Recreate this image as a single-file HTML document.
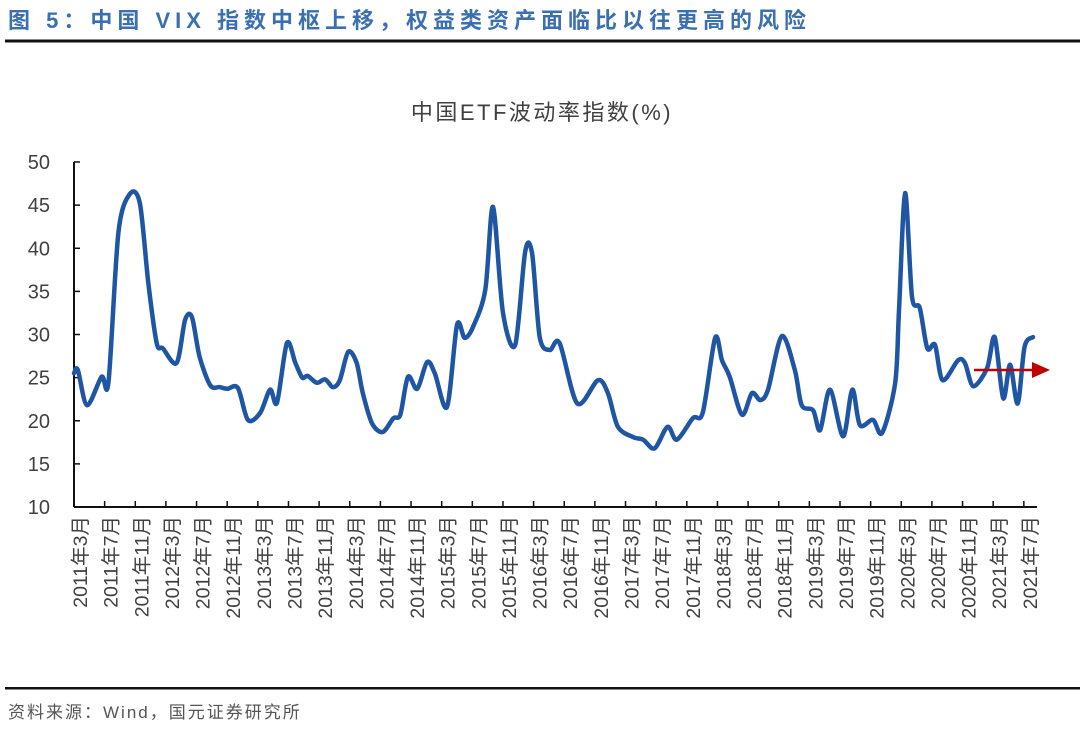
<!DOCTYPE html>
<html><head><meta charset="utf-8">
<style>
html,body{margin:0;padding:0;background:#fff;}
svg{display:block;}
text{font-family:"Liberation Sans","Noto Sans CJK SC",sans-serif;}
</style></head>
<body>
<svg id="chart" width="1080" height="730" viewBox="0 0 1080 730">
  <text x="8" y="28" font-size="22" font-weight="bold" fill="#3a6fb0" letter-spacing="5">图 5：中国 VIX 指数中枢上移，权益类资产面临比以往更高的风险</text>
  <rect x="5" y="39.5" width="1075" height="3" fill="#111"/>
  <text x="542" y="120" font-size="22" fill="#404040" text-anchor="middle" letter-spacing="2.5">中国ETF波动率指数(%)</text>
  <g id="yaxis"></g>
  <g id="xaxis"></g>
  <path id="series" fill="none" stroke="#1f56a3" stroke-width="4.5" stroke-linejoin="round" stroke-linecap="round"/>
  <g>
    <line x1="974" y1="370" x2="1034" y2="370" stroke="#c00000" stroke-width="2.5"/>
    <polygon points="1032,362 1050,370 1032,378" fill="#c00000"/>
  </g>
  <rect x="5" y="687" width="1075" height="2.5" fill="#111"/>
  <text x="8" y="718" font-size="17" fill="#555" letter-spacing="2">资料来源：Wind，国元证券研究所</text>
</svg>
<script>
// months since 2011-03 (time position) and index values
const monthIdx = [0,0.5,1.7,3.6,4.5,5.8,7.3,8.6,9.7,10.8,11.6,13.4,14.5,15.4,16.4,17.8,19,20,21.4,22.7,24.3,25.6,26.5,27.8,28.9,29.8,30.5,31.7,32.8,33.8,34.7,35.8,36.9,37.7,38.9,40.3,41.7,42.6,43.6,44.8,46.1,47.1,48.7,50,51,52.1,53.7,54.7,56,57.6,58.9,59.8,60.8,62.1,63.4,65.7,68.4,69.7,71,73,74.3,75.8,77.5,78.7,80.8,82.1,83.7,84.6,85.6,87.2,88.5,89.6,90.6,92.4,94.1,95,96.5,97.4,98.7,100.4,101.6,102.6,104.3,105.5,107.2,107.7,108.5,109.4,110.4,111.4,112.4,113.4,115.4,116.3,117.4,119.2,120.2,121.3,122.2,123.2,124.1,125.2];
const values = [25.5,25.9,21.8,25.1,24.5,41.8,46.3,45.2,36,29,28.4,26.7,31.7,32,27.4,24.1,23.9,23.7,23.8,20.1,20.9,23.6,22.1,29,26.7,25,25.2,24.4,24.8,23.9,24.7,28,26.7,23.2,19.7,18.7,20.3,20.7,25.1,23.7,26.8,25.5,21.6,31.1,29.6,30.9,35.2,44.8,32.5,28.8,39.6,39.4,29.7,28.2,29,22,24.7,23.2,19.3,18.1,17.8,16.8,19.3,17.8,20.3,21,29.6,27,25.1,20.7,23.2,22.4,23.6,29.8,25.9,21.8,21.2,18.9,23.6,18.2,23.6,19.5,20.1,18.6,24.4,32.8,46.4,34.4,33.1,28.4,28.8,24.7,27,26.7,24,26.1,29.7,22.6,26.5,22,28.6,29.7];
const yTicks = [10,15,20,25,30,35,40,45,50];
const xLabels = ["2011年3月","2011年7月","2011年11月","2012年3月","2012年7月","2012年11月","2013年3月","2013年7月","2013年11月","2014年3月","2014年7月","2014年11月","2015年3月","2015年7月","2015年11月","2016年3月","2016年7月","2016年11月","2017年3月","2017年7月","2017年11月","2018年3月","2018年7月","2018年11月","2019年3月","2019年7月","2019年11月","2020年3月","2020年7月","2020年11月","2021年3月","2021年7月"];

const NS="http://www.w3.org/2000/svg";
const X0=74, PPM=7.66, Y10=507, PPU=8.625;
const xScale=m=>X0+m*PPM;
const yScale=v=>Y10-(v-10)*PPU;

const ya=document.getElementById('yaxis');
const axL=document.createElementNS(NS,'line');
axL.setAttribute('x1',X0);axL.setAttribute('x2',X0);axL.setAttribute('y1',yScale(50));axL.setAttribute('y2',Y10);
axL.setAttribute('stroke','#111');axL.setAttribute('stroke-width','2');


ya.appendChild(axL);
yTicks.forEach(t=>{
  const y=yScale(t);
  const tk=document.createElementNS(NS,'line');
  tk.setAttribute('x1',X0);tk.setAttribute('x2',X0+6);tk.setAttribute('y1',y);tk.setAttribute('y2',y);
  tk.setAttribute('stroke','#111');tk.setAttribute('stroke-width','1.5');
  
  
  ya.appendChild(tk);
  const tx=document.createElementNS(NS,'text');
  tx.setAttribute('x',50);tx.setAttribute('y',y+7);tx.setAttribute('text-anchor','end');
  tx.setAttribute('font-size','20');tx.setAttribute('fill','#404040');
  tx.textContent=t;
  
  
  ya.appendChild(tx);
});

const xa=document.getElementById('xaxis');
const axB=document.createElementNS(NS,'line');
axB.setAttribute('x1',X0);axB.setAttribute('x2',1037);axB.setAttribute('y1',Y10);axB.setAttribute('y2',Y10);
axB.setAttribute('stroke','#111');axB.setAttribute('stroke-width','2');


xa.appendChild(axB);
xLabels.forEach((lab,i)=>{
  const x=xScale(i*4);
  if(i>0){
    const tk=document.createElementNS(NS,'line');
    tk.setAttribute('x1',x);tk.setAttribute('x2',x);tk.setAttribute('y1',Y10);tk.setAttribute('y2',Y10-6);
    tk.setAttribute('stroke','#111');tk.setAttribute('stroke-width','1.5');
    
    
    xa.appendChild(tk);
  }
  const tx=document.createElementNS(NS,'text');
  const lx=x+13, ly=516;
  tx.setAttribute('x',lx);tx.setAttribute('y',ly);
  tx.setAttribute('transform','rotate(-90 '+lx+' '+ly+')');
  tx.setAttribute('text-anchor','end');
  tx.setAttribute('font-size','19.5');tx.setAttribute('fill','#404040');
  tx.textContent=lab;
  
  
  xa.appendChild(tx);
});

// Catmull-Rom smoothed path
const pts=monthIdx.map((m,i)=>[xScale(m),yScale(values[i])]);
let d='M'+pts[0][0].toFixed(1)+','+pts[0][1].toFixed(1);
for(let i=0;i<pts.length-1;i++){
  const p0=pts[Math.max(0,i-1)],p1=pts[i],p2=pts[i+1],p3=pts[Math.min(pts.length-1,i+2)];
  const t=0.15;
  const c1=[p1[0]+(p2[0]-p0[0])*t,p1[1]+(p2[1]-p0[1])*t];
  const c2=[p2[0]-(p3[0]-p1[0])*t,p2[1]-(p3[1]-p1[1])*t];
  d+=' C'+c1[0].toFixed(1)+','+c1[1].toFixed(1)+' '+c2[0].toFixed(1)+','+c2[1].toFixed(1)+' '+p2[0].toFixed(1)+','+p2[1].toFixed(1);
}
document.getElementById('series').setAttribute('d',d);
</script>
</body></html>
